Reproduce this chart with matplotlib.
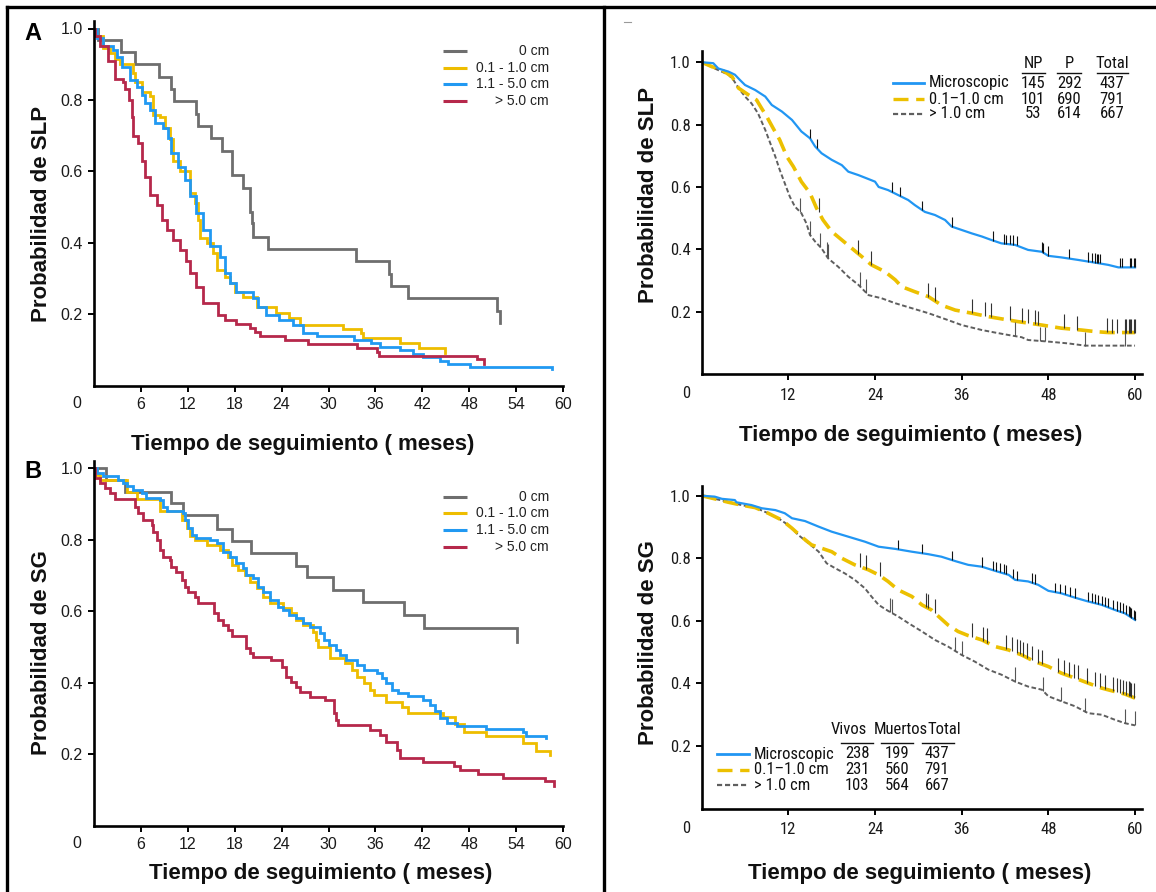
import numpy as np
import matplotlib
matplotlib.use("Agg")
import matplotlib.pyplot as plt
from matplotlib.lines import Line2D
from matplotlib import font_manager
from matplotlib.font_manager import FontProperties

# ===================== DATA =====================
# Panel A - SLP (step points: month, survival)
a_gray_t = [0, 0.55, 3.45, 5.2, 8.3, 9.8, 10.2, 13.0, 13.3, 15.0, 16.4, 17.6, 17.7, 19.1, 20.0, 20.2, 20.4, 22.3, 33.5, 37.8, 38.0, 40.2, 51.5, 51.9]
a_gray_s = [1.0, 0.968, 0.933, 0.90, 0.864, 0.83, 0.796, 0.76, 0.727, 0.692, 0.658, 0.622, 0.589, 0.552, 0.485, 0.455, 0.417, 0.381, 0.349, 0.312, 0.278, 0.244, 0.209, 0.175]
a_yel_t = [0, 0.34, 1.19, 2.04, 2.68, 3.32, 5.02, 5.23, 6.09, 7.15, 7.57, 8.43, 9.06, 9.7, 10.1, 10.98, 12.26, 12.9, 13.3, 13.5, 14.4, 15.2, 15.7, 16.7, 17.4, 18.0, 19.1, 20.8, 23.3, 25.0, 26.3, 31.9, 34.1, 34.4, 39.1, 41.6, 44.9]
a_yel_s = [1.0, 0.98, 0.945, 0.93, 0.915, 0.90, 0.875, 0.85, 0.823, 0.81, 0.758, 0.753, 0.72, 0.69, 0.63, 0.60, 0.54, 0.51, 0.464, 0.412, 0.398, 0.37, 0.323, 0.305, 0.286, 0.263, 0.249, 0.22, 0.202, 0.188, 0.169, 0.158, 0.146, 0.133, 0.12, 0.106, 0.091]
a_blue_t = [0, 0.34, 1.19, 2.47, 2.9, 3.53, 4.6, 5.45, 6.09, 6.5, 7.15, 7.8, 8.85, 9.5, 9.9, 10.8, 11.6, 12.25, 13.1, 13.96, 14.8, 16.1, 16.7, 17.4, 18.2, 20.3, 21.0, 22.0, 23.7, 25.4, 26.7, 28.5, 33.2, 35.5, 36.6, 39.1, 40.8, 42.1, 44.3, 45.3, 48.1, 58.6]
a_blue_s = [1.0, 0.973, 0.95, 0.94, 0.92, 0.893, 0.856, 0.837, 0.814, 0.79, 0.772, 0.735, 0.72, 0.692, 0.65, 0.613, 0.576, 0.53, 0.482, 0.436, 0.39, 0.36, 0.314, 0.286, 0.263, 0.244, 0.22, 0.197, 0.183, 0.169, 0.146, 0.139, 0.127, 0.118, 0.109, 0.099, 0.088, 0.079, 0.069, 0.059, 0.053, 0.047]
a_red_t = [0, 0.13, 0.77, 1.83, 2.68, 3.74, 3.96, 4.5, 4.8, 5.0, 5.66, 6.1, 6.5, 7.15, 8.0, 8.64, 9.28, 10.1, 11.0, 11.8, 12.25, 13.1, 14.0, 15.9, 16.7, 18.2, 19.9, 20.6, 21.2, 24.4, 27.4, 33.7, 36.2, 36.4, 49.0, 49.9]
a_red_s = [1.0, 0.98, 0.95, 0.91, 0.858, 0.85, 0.83, 0.80, 0.753, 0.70, 0.68, 0.63, 0.585, 0.534, 0.505, 0.464, 0.436, 0.407, 0.379, 0.35, 0.314, 0.277, 0.23, 0.197, 0.183, 0.172, 0.16, 0.15, 0.139, 0.127, 0.116, 0.104, 0.095, 0.083, 0.075, 0.06]

# Panel B - SG
b_gray_t = [0, 1.5, 4.0, 9.8, 11.4, 15.7, 17.6, 20.1, 25.9, 27.2, 30.55, 34.4, 39.7, 42.2, 54.1]
b_gray_s = [1.0, 0.968, 0.935, 0.903, 0.868, 0.831, 0.797, 0.763, 0.727, 0.695, 0.659, 0.625, 0.589, 0.552, 0.515]
b_yel_t = [0, 0.34, 0.8, 4.2, 5.45, 8.4, 11.2, 11.9, 12.25, 12.9, 14.4, 16.1, 17.1, 17.6, 18.4, 19.3, 19.9, 20.8, 21.6, 22.5, 24.2, 25.2, 25.9, 26.7, 28.0, 28.4, 28.6, 30.2, 32.1, 33.0, 33.7, 34.5, 35.3, 35.8, 37.4, 39.4, 40.2, 44.6, 46.2, 47.3, 50.2, 54.9, 56.6, 58.3]
b_yel_s = [1.0, 0.98, 0.968, 0.935, 0.914, 0.88, 0.856, 0.833, 0.81, 0.80, 0.786, 0.772, 0.753, 0.73, 0.716, 0.702, 0.683, 0.664, 0.641, 0.622, 0.608, 0.594, 0.576, 0.562, 0.543, 0.52, 0.50, 0.468, 0.454, 0.436, 0.417, 0.399, 0.38, 0.366, 0.347, 0.333, 0.315, 0.303, 0.285, 0.263, 0.251, 0.23, 0.21, 0.198]
b_blue_t = [0, 0.34, 1.19, 3.1, 3.74, 4.17, 5.0, 6.1, 6.7, 8.4, 8.85, 9.28, 11.4, 11.6, 12.0, 12.5, 13.1, 14.8, 15.7, 16.5, 17.4, 18.2, 19.1, 19.5, 20.3, 21.0, 21.6, 22.5, 23.5, 24.2, 25.0, 25.9, 26.7, 27.6, 28.9, 29.4, 30.0, 30.9, 31.5, 32.3, 33.6, 34.5, 36.2, 36.8, 37.4, 38.1, 38.9, 40.2, 42.1, 43.0, 43.6, 44.3, 45.1, 46.4, 50.2, 54.9, 55.3, 57.8]
b_blue_s = [1.0, 0.986, 0.978, 0.968, 0.96, 0.95, 0.94, 0.93, 0.917, 0.912, 0.893, 0.88, 0.875, 0.856, 0.833, 0.814, 0.804, 0.80, 0.79, 0.767, 0.753, 0.735, 0.72, 0.702, 0.692, 0.669, 0.655, 0.632, 0.613, 0.604, 0.59, 0.58, 0.566, 0.557, 0.538, 0.52, 0.506, 0.492, 0.478, 0.464, 0.45, 0.436, 0.427, 0.413, 0.399, 0.38, 0.371, 0.362, 0.352, 0.338, 0.32, 0.301, 0.287, 0.278, 0.27, 0.263, 0.25, 0.245]
b_red_t = [0, 0.13, 0.77, 1.4, 2.04, 2.68, 5.23, 5.66, 6.3, 7.36, 7.57, 8.0, 8.43, 8.85, 9.7, 9.9, 10.55, 11.2, 11.6, 12.0, 12.9, 13.3, 15.3, 15.9, 16.5, 17.1, 17.6, 19.4, 19.9, 20.3, 22.7, 24.0, 24.6, 25.2, 25.9, 26.3, 27.6, 29.6, 30.7, 31.0, 31.2, 35.3, 36.6, 37.4, 38.7, 39.1, 42.1, 46.0, 46.8, 49.1, 52.3, 57.7, 58.9]
b_red_s = [1.0, 0.973, 0.96, 0.945, 0.93, 0.914, 0.893, 0.875, 0.856, 0.842, 0.823, 0.80, 0.772, 0.753, 0.744, 0.725, 0.711, 0.688, 0.669, 0.655, 0.641, 0.622, 0.594, 0.576, 0.562, 0.548, 0.531, 0.496, 0.484, 0.473, 0.464, 0.445, 0.417, 0.403, 0.389, 0.375, 0.361, 0.352, 0.314, 0.296, 0.282, 0.268, 0.254, 0.235, 0.212, 0.188, 0.177, 0.168, 0.157, 0.145, 0.134, 0.124, 0.11]

# Panel C - SLP by residual disease (large cohort)
c_blue_t = [0, 1.6, 2.3, 3.7, 4.6, 5.3, 6.0, 7.4, 8.8, 9.7, 11.1, 12.5, 13.8, 15.0, 15.7, 16.6, 18.0, 19.4, 20.3, 21.7, 22.8, 24.0, 24.5, 25.8, 27.2, 28.6, 29.5, 30.9, 32.3, 33.7, 34.6, 36.0, 37.4, 38.8, 40.1, 41.5, 43.4, 45.2, 47.1, 48.0, 49.8, 52.1, 54.5, 56.3, 57.7, 60.0]
c_blue_s = [1.0, 0.997, 0.98, 0.97, 0.96, 0.943, 0.927, 0.911, 0.89, 0.863, 0.842, 0.815, 0.778, 0.756, 0.73, 0.708, 0.687, 0.67, 0.649, 0.638, 0.628, 0.617, 0.60, 0.59, 0.574, 0.558, 0.542, 0.52, 0.51, 0.494, 0.473, 0.462, 0.451, 0.441, 0.43, 0.419, 0.414, 0.398, 0.392, 0.379, 0.374, 0.366, 0.357, 0.35, 0.342, 0.342]
c_yel_t = [0, 1.4, 2.8, 4.2, 5.1, 6.5, 7.6, 8.3, 9.0, 9.9, 10.8, 11.8, 12.7, 13.8, 15.0, 15.9, 16.8, 18.0, 19.4, 20.8, 22.2, 23.5, 25.4, 26.8, 27.7, 29.5, 31.4, 33.2, 35.1, 37.4, 39.7, 42.0, 43.8, 47.1, 49.8, 52.6, 54.5, 56.3, 60.0]
c_yel_s = [1.0, 0.986, 0.975, 0.954, 0.917, 0.895, 0.879, 0.852, 0.826, 0.788, 0.751, 0.697, 0.665, 0.617, 0.58, 0.532, 0.494, 0.457, 0.43, 0.403, 0.376, 0.35, 0.328, 0.302, 0.28, 0.264, 0.248, 0.221, 0.205, 0.195, 0.184, 0.175, 0.168, 0.157, 0.147, 0.141, 0.136, 0.133, 0.133]
c_gray_t = [0, 1.8, 3.7, 4.4, 5.1, 6.0, 6.9, 7.8, 8.8, 9.5, 10.2, 10.8, 11.5, 12.2, 12.9, 13.8, 14.5, 15.0, 15.7, 16.6, 17.5, 18.9, 20.3, 21.7, 23.1, 24.9, 26.8, 29.1, 31.4, 34.1, 36.0, 38.8, 40.6, 42.5, 44.3, 45.2, 48.0, 50.8, 53.1, 60.0]
c_gray_s = [1.0, 0.98, 0.96, 0.943, 0.917, 0.89, 0.868, 0.836, 0.783, 0.74, 0.697, 0.655, 0.612, 0.569, 0.537, 0.516, 0.483, 0.446, 0.425, 0.403, 0.371, 0.344, 0.312, 0.286, 0.253, 0.243, 0.227, 0.211, 0.195, 0.173, 0.157, 0.141, 0.133, 0.125, 0.118, 0.109, 0.104, 0.098, 0.091, 0.091]
c_blue_cens = [15.0, 15.9, 26.3, 27.5, 30.5, 34.6, 40.4, 41.8, 42.2, 42.7, 43.1, 43.6, 47.1, 47.3, 48.0, 50.8, 53.5, 54.0, 54.5, 54.7, 54.9, 55.1, 57.9, 58.2, 59.3, 59.5, 59.8, 60.0]
c_yel_cens = [16.2, 21.7, 23.5, 31.4, 32.3, 37.4, 39.2, 40.1, 42.7, 44.3, 45.2, 46.1, 46.6, 50.1, 51.9, 56.1, 56.8, 57.5, 58.6, 58.8, 59.1, 59.3, 59.5, 59.8, 60.0]
c_gray_cens = [13.6, 15.0, 16.4, 17.3, 17.5, 21.9, 22.8, 43.4, 46.8, 47.5, 53.1, 58.6]

# Panel D - SG by residual disease
d_blue_t = [0, 1.8, 2.8, 4.6, 4.8, 6.9, 8.3, 10.2, 11.5, 12.5, 14.3, 16.2, 18.0, 20.3, 22.6, 24.5, 26.8, 29.1, 31.4, 33.2, 35.1, 36.9, 38.8, 40.6, 42.5, 43.4, 45.2, 46.6, 48.0, 49.8, 51.7, 53.5, 55.4, 57.2, 58.6, 60.0]
d_blue_s = [1.0, 0.997, 0.99, 0.986, 0.979, 0.97, 0.96, 0.954, 0.944, 0.928, 0.919, 0.901, 0.885, 0.869, 0.853, 0.837, 0.83, 0.821, 0.813, 0.805, 0.791, 0.779, 0.773, 0.76, 0.747, 0.731, 0.726, 0.715, 0.696, 0.688, 0.674, 0.662, 0.651, 0.635, 0.624, 0.603]
d_yel_t = [0, 1.8, 3.7, 5.5, 7.4, 9.2, 11.1, 12.5, 13.8, 15.2, 16.6, 18.0, 19.4, 21.2, 23.1, 24.5, 25.8, 27.2, 29.1, 30.5, 31.8, 32.8, 34.1, 35.5, 36.9, 38.8, 40.6, 42.5, 44.3, 46.1, 48.0, 49.8, 51.7, 53.5, 55.4, 57.2, 58.6, 60.0]
d_yel_s = [1.0, 0.99, 0.979, 0.97, 0.962, 0.944, 0.922, 0.896, 0.869, 0.843, 0.832, 0.821, 0.80, 0.779, 0.763, 0.747, 0.726, 0.699, 0.678, 0.651, 0.635, 0.614, 0.587, 0.566, 0.553, 0.539, 0.518, 0.507, 0.491, 0.47, 0.454, 0.433, 0.417, 0.401, 0.385, 0.374, 0.366, 0.353]
d_gray_t = [0, 1.8, 3.7, 5.5, 7.4, 9.2, 10.6, 12.0, 13.4, 14.8, 16.2, 17.3, 18.5, 19.8, 21.2, 22.6, 23.5, 24.5, 25.8, 27.2, 28.6, 30.5, 32.3, 34.1, 36.0, 37.8, 39.7, 41.5, 43.4, 45.2, 47.1, 48.0, 49.8, 51.7, 53.5, 55.4, 57.2, 58.6, 60.0]
d_gray_s = [1.0, 0.99, 0.98, 0.97, 0.962, 0.944, 0.928, 0.906, 0.874, 0.848, 0.821, 0.784, 0.768, 0.752, 0.731, 0.704, 0.678, 0.651, 0.632, 0.614, 0.593, 0.566, 0.539, 0.518, 0.491, 0.47, 0.444, 0.428, 0.406, 0.39, 0.38, 0.359, 0.343, 0.327, 0.305, 0.30, 0.284, 0.273, 0.266]
d_blue_cens = [27.2, 30.5, 34.6, 38.8, 40.4, 40.8, 41.3, 41.8, 42.2, 43.1, 43.6, 45.7, 46.1, 48.9, 49.6, 50.3, 51.0, 51.7, 53.5, 54.0, 54.5, 54.9, 55.4, 55.8, 56.3, 57.0, 57.5, 57.9, 58.4, 58.8, 59.1, 59.3, 59.5, 59.8, 60.0]
d_yel_cens = [21.9, 22.8, 24.7, 31.1, 31.4, 32.3, 37.4, 39.0, 39.5, 42.2, 42.9, 43.6, 44.1, 44.5, 45.0, 45.7, 46.6, 47.1, 49.4, 50.1, 50.8, 51.5, 52.1, 53.3, 54.5, 55.1, 55.8, 57.0, 57.5, 57.9, 58.4, 58.8, 59.1, 59.3, 59.5, 59.8]
d_gray_cens = [26.1, 26.3, 35.1, 36.0, 43.4, 47.3, 49.8, 53.1, 58.6, 60.0]

# Labels / tables
ab_labels = ["0 cm", "0.1 - 1.0 cm", "1.1 - 5.0 cm", "> 5.0 cm"]
cd_labels = ["Microscopic", "0.1\u20131.0 cm", "> 1.0 cm"]
c_headers = ["NP", "P", "Total"]
c_np = ["145", "101", "53"]
c_p = ["292", "690", "614"]
c_total = ["437", "791", "667"]
d_headers = ["Vivos", "Muertos", "Total"]
d_vivos = ["238", "231", "103"]
d_muertos = ["199", "560", "564"]
d_total = ["437", "791", "667"]
ab_xticks = [6, 12, 18, 24, 30, 36, 42, 48, 54, 60]
cd_xticks = [12, 24, 36, 48, 60]
yticks = [0.2, 0.4, 0.6, 0.8, 1.0]

# ===================== STYLE =====================
GRAY, YEL, BLUE, RED = "#6e6e6e", "#eebd00", "#2199f2", "#b6284b"
C_BLUE, C_YEL, C_GRAY = "#2196f3", "#ecc000", "#5f5f5f"

REG = "Liberation Sans"


def find_condensed():
    prefs = ["Liberation Sans Narrow", "Roboto Condensed", "Open Sans Condensed",
             "Noto Sans Condensed", "DejaVu Sans Condensed", "Arial Narrow"]
    fl = font_manager.fontManager.ttflist

    def is_regular(f):
        w = f.weight
        ok_w = (w in (400, "normal", "regular", "book")) if not isinstance(w, int) else (350 <= w <= 450)
        return ok_w and f.style == "normal"

    for p in prefs:
        for f in fl:
            if f.name == p and is_regular(f):
                return f.fname
    for f in fl:
        st = f.stretch
        cond = (isinstance(st, str) and "condensed" in st) or (isinstance(st, int) and st < 500)
        nm = ("Condensed" in f.fname or "Narrow" in f.fname or "Cond" in f.fname)
        if (cond or nm) and is_regular(f) and "Mono" not in f.name and "Serif" not in f.name:
            return f.fname
    return None


COND_PATH = find_condensed()
if COND_PATH:
    NSIZE = 12
    def NFP(size=None):
        return FontProperties(fname=COND_PATH, size=size or NSIZE)
else:
    NSIZE = 10.6
    def NFP(size=None):
        return FontProperties(family=REG, size=size or NSIZE)

W, H = 1156, 892
fig = plt.figure(figsize=(W / 100, H / 100), dpi=100)


def fx(px):
    return px / W


def fy(py):
    return 1 - py / H


def add_axes(left, zero_px, right_px, ymax, unit_px):
    height = ymax * unit_px
    return fig.add_axes([fx(left), fy(zero_px), (right_px - left) / W, height / H])


def style(ax, xticks, xlim, ylim, fp, xpad, ypad):
    for sp in ["top", "right"]:
        ax.spines[sp].set_visible(False)
    for sp in ["left", "bottom"]:
        ax.spines[sp].set_linewidth(1.9)
    ax.set_xlim(*xlim)
    ax.set_ylim(*ylim)
    ax.set_xticks(xticks)
    ax.set_xticklabels([str(v) for v in xticks], fontproperties=fp, color="#1a1a1a")
    ax.set_yticks(yticks)
    ax.set_yticklabels(["%.1f" % v for v in yticks], fontproperties=fp, color="#1a1a1a")
    ax.tick_params(axis="x", length=4, width=1.4, pad=xpad)
    ax.tick_params(axis="y", length=4, width=1.4, pad=ypad)
    ax.annotate("0", xy=(-2.2, 0), xycoords=("data", "axes fraction"),
                xytext=(0, -(4 * 0.72 + xpad)), textcoords="offset points",
                ha="center", va="top", fontproperties=fp, color="#1a1a1a",
                annotation_clip=False)


# ----- Panel A -----
axA = add_axes(94, 385.5, 563, 1.02, 357)
for t, s, c in [(a_gray_t, a_gray_s, GRAY), (a_yel_t, a_yel_s, YEL),
                (a_blue_t, a_blue_s, BLUE), (a_red_t, a_red_s, RED)]:
    axA.step(t, s, where="post", color=c, lw=2.0, solid_joinstyle="miter")
style(axA, ab_xticks, (0, 60), (0, 1.02), FontProperties(family=REG, size=11.5), 4.5, 4)

# ----- Panel B -----
axB = add_axes(94, 825.6, 563, 1.02, 357.3)
for t, s, c in [(b_gray_t, b_gray_s, GRAY), (b_yel_t, b_yel_s, YEL),
                (b_blue_t, b_blue_s, BLUE), (b_red_t, b_red_s, RED)]:
    axB.step(t, s, where="post", color=c, lw=2.0, solid_joinstyle="miter")
style(axB, ab_xticks, (0, 60), (0, 1.02), FontProperties(family=REG, size=11.5), 4.5, 4)


# ----- Panels C, D -----
def draw_cd(ax, bt, bs, yt, ys, gt, gs, bc, yc, gc):
    ax.plot(gt, gs, color=C_GRAY, lw=1.4, dashes=(2.4, 1.3))
    ax.plot(yt, ys, color=C_YEL, lw=2.6, dashes=(4.2, 2.0))
    ax.plot(bt, bs, color=C_BLUE, lw=1.6)
    for cens, t, s, h, col in [(gc, gt, gs, 0.045, "#555555"), (yc, yt, ys, 0.045, "#333333"),
                               (bc, bt, bs, 0.03, "#111111")]:
        yv = np.interp(cens, t, s)
        ax.vlines(cens, yv, yv + h, color=col, lw=0.8)


axC = add_axes(701.7, 374, 701.7 + 61 * 7.222, 1.035, 311.75)
draw_cd(axC, c_blue_t, c_blue_s, c_yel_t, c_yel_s, c_gray_t, c_gray_s,
        c_blue_cens, c_yel_cens, c_gray_cens)
style(axC, cd_xticks, (0, 61), (0, 1.035), NFP(), 6, 4)

axD = add_axes(701.7, 808.6, 701.7 + 61 * 7.222, 1.031, 312.9)
draw_cd(axD, d_blue_t, d_blue_s, d_yel_t, d_yel_s, d_gray_t, d_gray_s,
        d_blue_cens, d_yel_cens, d_gray_cens)
style(axD, cd_xticks, (0, 61), (0, 1.031), NFP(), 6, 4)

# ===================== TEXT =====================
bold = dict(family=REG, fontweight="bold", fontsize=16, color="#111111")
fig.text(fx(42), fy(214), "Probabilidad de SLP", rotation=90, ha="center", va="center", **bold)
fig.text(fx(303), fy(445), "Tiempo de seguimiento ( meses)", ha="center", va="center", **bold)
fig.text(fx(42), fy(653), "Probabilidad de SG", rotation=90, ha="center", va="center", **bold)
fig.text(fx(321), fy(874), "Tiempo de seguimiento ( meses)", ha="center", va="center", **bold)
fig.text(fx(649), fy(195), "Probabilidad de SLP", rotation=90, ha="center", va="center", **bold)
fig.text(fx(911), fy(435), "Tiempo de seguimiento ( meses)", ha="center", va="center", **bold)
fig.text(fx(649), fy(643), "Probabilidad de SG", rotation=90, ha="center", va="center", **bold)
fig.text(fx(920), fy(874), "Tiempo de seguimiento ( meses)", ha="center", va="center", **bold)
fig.text(fx(33), fy(33), "A", ha="center", va="center", family=REG, fontweight="bold", fontsize=17)
fig.text(fx(33), fy(471), "B", ha="center", va="center", family=REG, fontweight="bold", fontsize=17)


def fline(x0, x1, y, **kw):
    fig.add_artist(Line2D([fx(x0), fx(x1)], [fy(y), fy(y)], transform=fig.transFigure, **kw))


# Legends A / B
for rows in ([51, 68, 84, 101], [497, 513, 530, 547]):
    for yy, col, lab in zip(rows, [GRAY, YEL, BLUE, RED], ab_labels):
        fline(443, 467, yy, color=col, lw=2.2, solid_capstyle="butt")
        fig.text(fx(549), fy(yy), lab, ha="right", va="center", family=REG, fontsize=10, color="#222222")

# Legend C
styles = [dict(color=C_BLUE, lw=2.0), dict(color=C_YEL, lw=2.4, dashes=(4.5, 2.3)),
          dict(color=C_GRAY, lw=1.6, dashes=(2.3, 1.3))]
tkw = dict(fontproperties=NFP(), color="#111111", va="center")
for yy, st, lab, a, b, c in zip([83, 99, 114], styles, cd_labels, c_np, c_p, c_total):
    fline(893, 924, yy, **st)
    fig.text(fx(929), fy(yy), lab, ha="left", **tkw)
    fig.text(fx(1033), fy(yy), a, ha="center", **tkw)
    fig.text(fx(1069), fy(yy), b, ha="center", **tkw)
    fig.text(fx(1112), fy(yy), c, ha="center", **tkw)
for hx, h, (u0, u1) in zip([1033, 1069, 1112], c_headers, [(1022, 1045), (1057, 1081), (1097, 1128)]):
    fig.text(fx(hx), fy(63), h, ha="center", **tkw)
    fline(u0, u1, 72.5, color="#111111", lw=1.0)

# Legend D
for yy, st, lab, a, b, c in zip([754, 770, 785], styles, cd_labels, d_vivos, d_muertos, d_total):
    fline(717, 749, yy, **st)
    fig.text(fx(754), fy(yy), lab, ha="left", **tkw)
    fig.text(fx(857), fy(yy), a, ha="center", **tkw)
    fig.text(fx(897), fy(yy), b, ha="center", **tkw)
    fig.text(fx(937), fy(yy), c, ha="center", **tkw)
for hx, h, (u0, u1) in zip([849, 901, 944], d_headers, [(841, 873), (881, 913), (922, 954)]):
    fig.text(fx(hx), fy(729), h, ha="center", **tkw)
    fline(u0, u1, 743, color="#111111", lw=1.0)

# Frame
fig.add_artist(Line2D([fx(7), fx(7)], [fy(7), fy(892)], transform=fig.transFigure, color="k", lw=2.4))
fig.add_artist(Line2D([fx(7), fx(1156)], [fy(7), fy(7)], transform=fig.transFigure, color="k", lw=2.4))
fig.add_artist(Line2D([fx(604), fx(604)], [fy(7), fy(892)], transform=fig.transFigure, color="k", lw=2.4))
fline(624, 631, 22, color="#9a9a9a", lw=0.8)

fig.savefig("out.png", dpi=100, facecolor="white")
